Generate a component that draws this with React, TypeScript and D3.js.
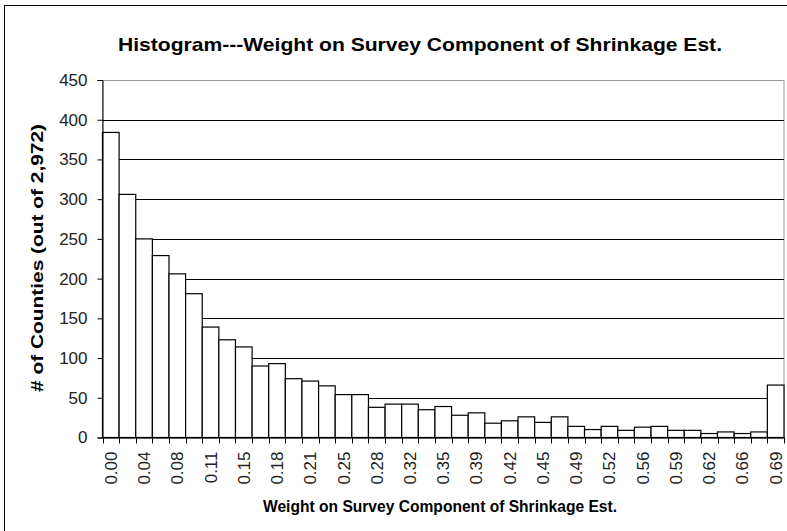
import React, { useEffect, useRef } from "react";
import * as d3 from "d3";

const counts: number[] = [
  384, 306, 250, 229, 206, 181, 139, 123, 114, 90,
  93, 74, 71, 65, 54, 54, 38, 42, 42, 35,
  39, 28, 31, 18, 21, 26, 19, 26, 14, 10,
  14, 9, 13, 14, 9, 9, 5, 7, 5, 7,
  66,
];

const tickLabels: string[] = [
  "0.00", "0.04", "0.08", "0.11", "0.15", "0.18", "0.21", "0.25", "0.28", "0.32", "0.35",
  "0.39", "0.42", "0.45", "0.49", "0.52", "0.56", "0.59", "0.62", "0.66", "0.69",
];

const yTicks: number[] = [0, 50, 100, 150, 200, 250, 300, 350, 400, 450];

const title = "Histogram---Weight on Survey Component of Shrinkage Est.";
const xTitle = "Weight on Survey Component of Shrinkage Est.";
const yTitle = "# of Counties (out of 2,972)";

const W = 787;
const H = 531;
const FONT = "Arial, 'Liberation Sans', sans-serif";

export default function App() {
  const ref = useRef<SVGSVGElement | null>(null);

  useEffect(() => {
    const svg = d3.select(ref.current);
    svg.selectAll("*").remove();

    const left = 102.5;
    const right = 784;
    const top = 80;
    const bottom = 437.5;

    const x = d3
      .scaleBand<number>()
      .domain(counts.map((_, i) => i))
      .range([left, right])
      .padding(0);
    const y = d3.scaleLinear().domain([0, 450]).range([bottom, top]);

    svg.append("rect").attr("x", 0).attr("y", 0).attr("width", W).attr("height", H).attr("fill", "#fff");
    // outer border
    svg
      .append("rect")
      .attr("x", 4.5)
      .attr("y", 5.5)
      .attr("width", W + 10)
      .attr("height", H + 10)
      .attr("fill", "none")
      .attr("stroke", "#000")
      .attr("stroke-width", 1);

    // title
    svg
      .append("text")
      .attr("x", 118)
      .attr("y", 51)
      .attr("textLength", 604)
      .attr("lengthAdjust", "spacingAndGlyphs")
      .attr("font-family", FONT)
      .attr("font-weight", "bold")
      .attr("font-size", 19)
      .attr("fill", "#000")
      .text(title);

    // plot area border (top/right)
    svg
      .append("rect")
      .attr("x", left)
      .attr("y", top + 0.5)
      .attr("width", right - left)
      .attr("height", bottom - top)
      .attr("fill", "none")
      .attr("stroke", "#999")
      .attr("stroke-width", 1);

    // gridlines
    svg
      .append("g")
      .selectAll("line")
      .data(yTicks.filter((t) => t > 0 && t < 450))
      .join("line")
      .attr("x1", left)
      .attr("x2", right)
      .attr("y1", (d) => Math.round(y(d)) + 0.5)
      .attr("y2", (d) => Math.round(y(d)) + 0.5)
      .attr("stroke", "#000")
      .attr("stroke-width", 1);

    // bars
    svg
      .append("g")
      .selectAll("rect")
      .data(counts)
      .join("rect")
      .attr("x", (_, i) => (x(i) as number))
      .attr("y", (d) => y(d))
      .attr("width", x.bandwidth())
      .attr("height", (d) => bottom - y(d))
      .attr("fill", "#fff")
      .attr("stroke", "#000")
      .attr("stroke-width", 1.2);

    // y axis
    const yAxis = d3
      .axisLeft(y)
      .tickValues(yTicks)
      .tickSize(5)
      .tickPadding(10)
      .tickFormat((d) => String(d));
    const gy = svg.append("g").attr("transform", `translate(${left},0)`).call(yAxis);
    gy.select(".domain").attr("stroke", "#000");
    gy.selectAll("line").attr("stroke", "#000");
    gy.selectAll("text")
      .attr("font-family", FONT)
      .attr("font-size", 17)
      .attr("fill", "#222");

    // x axis
    const gx = svg.append("g").attr("transform", `translate(0,${bottom})`);
    gx.append("line")
      .attr("x1", left)
      .attr("x2", right)
      .attr("y1", 0.5)
      .attr("y2", 0.5)
      .attr("stroke", "#000");
    const boundaries = counts.map((_, i) => x(i) as number).concat([right]);
    gx.selectAll("line.tick")
      .data(boundaries)
      .join("line")
      .attr("class", "tick")
      .attr("x1", (d) => Math.round(d) + 0.5)
      .attr("x2", (d) => Math.round(d) + 0.5)
      .attr("y1", 0)
      .attr("y2", 6)
      .attr("stroke", "#000");
    gx.selectAll("text")
      .data(tickLabels)
      .join("text")
      .attr("transform", (_, k) => {
        const cx = (x(k * 2) as number) + x.bandwidth() / 2;
        return `translate(${cx + 6},14) rotate(-90)`;
      })
      .attr("text-anchor", "end")
      .attr("font-family", FONT)
      .attr("font-size", 17)
      .attr("fill", "#222")
      .text((d) => d);

    // axis titles
    svg
      .append("text")
      .attr("x", 263)
      .attr("y", 512)
      .attr("textLength", 354)
      .attr("lengthAdjust", "spacingAndGlyphs")
      .attr("font-family", FONT)
      .attr("font-weight", "bold")
      .attr("font-size", 16)
      .attr("fill", "#000")
      .text(xTitle);

    svg
      .append("text")
      .attr("transform", `translate(43,392) rotate(-90)`)
      .attr("textLength", 268)
      .attr("lengthAdjust", "spacingAndGlyphs")
      .attr("font-family", FONT)
      .attr("font-weight", "bold")
      .attr("font-size", 16)
      .attr("fill", "#000")
      .text(yTitle);
  }, []);

  return (
    <div style={{ position: "absolute", left: 0, top: 0 }}>
      <svg ref={ref} width={W} height={H} style={{ display: "block" }} />
    </div>
  );
}
